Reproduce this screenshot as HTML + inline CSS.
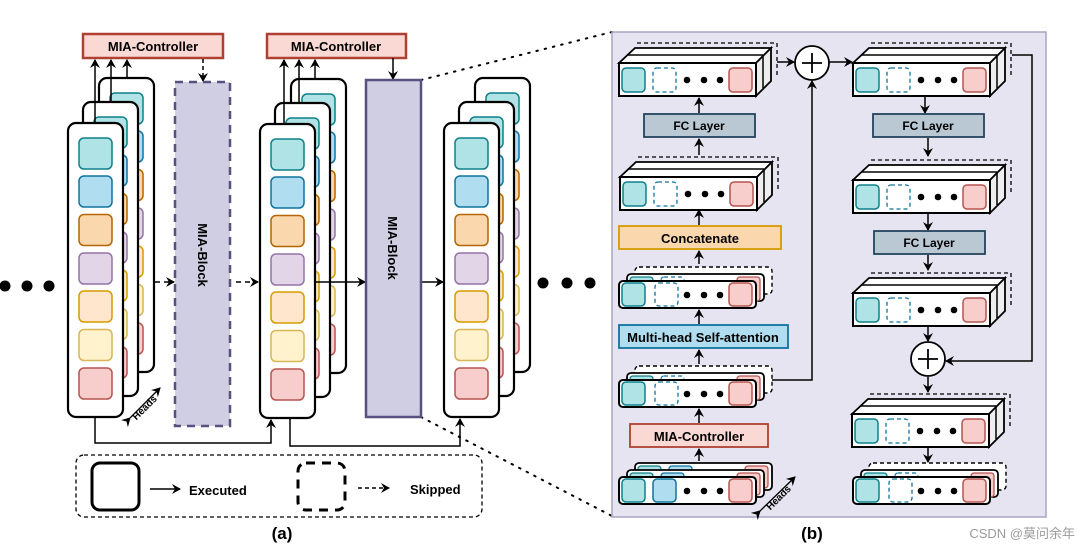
<!DOCTYPE html>
<html><head><meta charset="utf-8"><style>
html,body{margin:0;padding:0;background:#fff;}
svg{display:block;font-family:"Liberation Sans",Arial,sans-serif;}
</style></head><body>
<svg width="1089" height="552" viewBox="0 0 1089 552" xmlns="http://www.w3.org/2000/svg">
<defs>
<marker id="ah" markerWidth="10" markerHeight="10" refX="8" refY="5" orient="auto" markerUnits="userSpaceOnUse"><path d="M0,0 L9,5 L0,10 L3,5 z" fill="#000"/></marker>
<g id="card">
<rect x="0" y="0" width="55" height="294" rx="8" fill="#fff" stroke="#000" stroke-width="2.2"/>
<rect x="11" y="15" width="33" height="31" rx="5" fill="#b0e3e6" stroke="#0e8088" stroke-width="1.5"/>
<rect x="11" y="53" width="33" height="31" rx="5" fill="#b1ddf0" stroke="#10739e" stroke-width="1.5"/>
<rect x="11" y="91.5" width="33" height="31" rx="5" fill="#fad7ac" stroke="#b46504" stroke-width="1.5"/>
<rect x="11" y="130" width="33" height="31" rx="5" fill="#e1d5e7" stroke="#9673a6" stroke-width="1.5"/>
<rect x="11" y="168" width="33" height="31" rx="5" fill="#ffe6cc" stroke="#d79b00" stroke-width="1.5"/>
<rect x="11" y="206.5" width="33" height="31" rx="5" fill="#fff2cc" stroke="#d6b656" stroke-width="1.5"/>
<rect x="11" y="245" width="33" height="31" rx="5" fill="#f8cecc" stroke="#b85450" stroke-width="1.5"/>
</g>
<g id="stack">
<use href="#card" x="31" y="-45"/>
<use href="#card" x="15" y="-21"/>
<use href="#card" x="0" y="0"/>
</g>
<g id="cont">
<rect x="3" y="5" width="23" height="24" rx="4" fill="#b0e3e6" stroke="#0e8088" stroke-width="1.5"/>
<rect x="34" y="5" width="23" height="24" rx="4" fill="#fff" stroke="#10739e" stroke-width="1.3" stroke-dasharray="4,3"/>
<circle cx="68" cy="17" r="3.3" fill="#000"/><circle cx="85" cy="17" r="3.3" fill="#000"/><circle cx="101" cy="17" r="3.3" fill="#000"/>
<rect x="110" y="5" width="23" height="24" rx="4" fill="#f8cecc" stroke="#b85450" stroke-width="1.5"/>
</g>
<g id="prism">
<polyline points="18,-20 158,-20 158,13" fill="none" stroke="#000" stroke-width="1.3" stroke-dasharray="4,3"/>
<polygon points="0,0 16,-15 152,-15 137,0" fill="#fff" stroke="#000" stroke-width="1.8"/>
<polygon points="137,0 152,-15 152,18 137,33" fill="#eee" stroke="#000" stroke-width="1.8"/>
<line x1="8" y1="-8" x2="144" y2="-8" stroke="#000" stroke-width="1.5"/>
<line x1="144" y1="-8" x2="144" y2="25" stroke="#000" stroke-width="1.5"/>
<rect x="0" y="0" width="137" height="33" fill="#fff" stroke="#000" stroke-width="2"/>
<use href="#cont" x="0" y="0"/>
</g>
<g id="flat">
<rect x="16" y="-14" width="137" height="27" rx="4" fill="#fff" stroke="#000" stroke-width="1.4" stroke-dasharray="4,3"/>
<rect x="8" y="-7" width="137" height="27" rx="4" fill="#fff" stroke="#000" stroke-width="1.8"/>
<rect x="11" y="-4" width="23" height="10" rx="3" fill="#b0e3e6" stroke="#0e8088" stroke-width="1.3"/>
<rect x="42" y="-4" width="23" height="10" rx="3" fill="#fff" stroke="#10739e" stroke-width="1.3" stroke-dasharray="4,3"/>
<rect x="118" y="-4" width="23" height="24" rx="3" fill="#f8cecc" stroke="#b85450" stroke-width="1.3"/>
<rect x="0" y="0" width="137" height="27" rx="4" fill="#fff" stroke="#000" stroke-width="2"/>
<rect x="3" y="2" width="23" height="23" rx="4" fill="#b0e3e6" stroke="#0e8088" stroke-width="1.5"/>
<rect x="36" y="2" width="23" height="23" rx="4" fill="#fff" stroke="#10739e" stroke-width="1.3" stroke-dasharray="4,3"/>
<circle cx="68" cy="14" r="3.3" fill="#000"/><circle cx="85" cy="14" r="3.3" fill="#000"/><circle cx="101" cy="14" r="3.3" fill="#000"/>
<rect x="110" y="2" width="23" height="23" rx="4" fill="#f8cecc" stroke="#b85450" stroke-width="1.5"/>
</g>
</defs>

<!-- left dots -->
<circle cx="5" cy="286" r="5.5"/><circle cx="27" cy="286" r="5.5"/><circle cx="49" cy="286" r="5.5"/>
<circle cx="543" cy="283" r="5.5"/><circle cx="567" cy="283" r="5.5"/><circle cx="590" cy="283" r="5.5"/>

<!-- dotted zoom lines -->
<line x1="421" y1="80" x2="612" y2="32" stroke="#000" stroke-width="2" stroke-dasharray="1.5,7" stroke-linecap="round"/>
<line x1="421" y1="417" x2="612" y2="516" stroke="#000" stroke-width="2" stroke-dasharray="1.5,7" stroke-linecap="round"/>

<!-- controllers -->
<rect x="83" y="34" width="140" height="24" fill="#fad9d5" stroke="#ae4132" stroke-width="2.5"/>
<text x="153" y="51" text-anchor="middle" font-size="13" font-weight="bold">MIA-Controller</text>
<rect x="267" y="34" width="139" height="24" fill="#fad9d5" stroke="#ae4132" stroke-width="2.5"/>
<text x="336" y="51" text-anchor="middle" font-size="13" font-weight="bold">MIA-Controller</text>

<!-- stacks -->
<use href="#stack" x="68" y="123"/>
<use href="#stack" x="260" y="124"/>
<use href="#stack" x="444" y="123"/>

<!-- up arrows -->
<g stroke="#000" stroke-width="1.5" marker-end="url(#ah)">
<line x1="95" y1="123" x2="95" y2="60"/><line x1="111" y1="102" x2="111" y2="60"/><line x1="127" y1="78" x2="127" y2="60"/>
<line x1="284" y1="124" x2="284" y2="60"/><line x1="299" y1="103" x2="299" y2="60"/><line x1="315" y1="79" x2="315" y2="60"/>
<line x1="393" y1="58" x2="393" y2="79"/>
<line x1="203" y1="59" x2="203" y2="81" stroke-dasharray="4,3"/>
<line x1="155" y1="282" x2="174" y2="282" stroke-dasharray="5,4"/>
<line x1="236" y1="282" x2="258" y2="282" stroke-dasharray="5,4"/>
<line x1="314" y1="282" x2="365" y2="282"/>
<line x1="421" y1="282" x2="443" y2="282"/>
</g>

<!-- blocks -->
<rect x="175" y="82" width="55" height="344" fill="#d0cee2" stroke="#56517e" stroke-width="2.5" stroke-dasharray="8,6"/>
<text transform="translate(198,255) rotate(90)" text-anchor="middle" font-size="13" font-weight="bold">MIA-Block</text>
<rect x="366" y="80" width="55" height="337" fill="#d0cee2" stroke="#56517e" stroke-width="2.5"/>
<text transform="translate(388,248) rotate(90)" text-anchor="middle" font-size="13" font-weight="bold">MIA-Block</text>

<!-- bottom skip lines -->
<polyline points="95,417 95,443 271,443 271,420" fill="none" stroke="#000" stroke-width="1.5" marker-end="url(#ah)"/>
<polyline points="290,418 290,446 460,446 460,419" fill="none" stroke="#000" stroke-width="1.5" marker-end="url(#ah)"/>

<!-- heads (a) -->
<line x1="130" y1="418" x2="160" y2="388" stroke="#000" stroke-width="1.3" marker-end="url(#ah)" marker-start="url(#ah)"/>
<text transform="translate(147,410) rotate(-45)" text-anchor="middle" font-size="10" font-weight="bold">Heads</text>

<!-- legend -->
<rect x="76" y="455" width="406" height="62" rx="8" fill="none" stroke="#000" stroke-width="1.3" stroke-dasharray="4,3"/>
<rect x="92" y="463" width="47" height="47" rx="8" fill="#fff" stroke="#000" stroke-width="3"/>
<line x1="150" y1="489" x2="180" y2="489" stroke="#000" stroke-width="1.5" marker-end="url(#ah)"/>
<text x="189" y="495" font-size="13" font-weight="bold">Executed</text>
<rect x="298" y="463" width="47" height="47" rx="8" fill="#fff" stroke="#000" stroke-width="3" stroke-dasharray="9,7"/>
<line x1="358" y1="488" x2="389" y2="488" stroke="#000" stroke-width="1.5" stroke-dasharray="4,3" marker-end="url(#ah)"/>
<text x="410" y="494" font-size="13" font-weight="bold">Skipped</text>
<text x="282" y="539" text-anchor="middle" font-size="17" font-weight="bold">(a)</text>

<!-- panel b -->
<rect x="612" y="32" width="434" height="485" fill="#e6e4f0" stroke="#a8a4c4" stroke-width="1.5"/>

<use href="#prism" x="619" y="63"/>
<use href="#prism" x="620" y="177"/>
<use href="#flat" x="619" y="281"/>
<use href="#flat" x="619" y="380"/>
<g>
<rect x="635" y="463" width="137" height="27" rx="4" fill="#fff" stroke="#000" stroke-width="1.8"/>
<rect x="638" y="466" width="23" height="10" rx="3" fill="#b0e3e6" stroke="#0e8088" stroke-width="1.3"/>
<rect x="669" y="466" width="23" height="10" rx="3" fill="#b1ddf0" stroke="#10739e" stroke-width="1.3"/>
<rect x="745" y="466" width="23" height="22" rx="3" fill="#f8cecc" stroke="#b85450" stroke-width="1.3"/>
<rect x="627" y="470" width="137" height="27" rx="4" fill="#fff" stroke="#000" stroke-width="1.8"/>
<rect x="630" y="473" width="23" height="10" rx="3" fill="#b0e3e6" stroke="#0e8088" stroke-width="1.3"/>
<rect x="661" y="473" width="23" height="10" rx="3" fill="#b1ddf0" stroke="#10739e" stroke-width="1.3"/>
<rect x="737" y="473" width="23" height="22" rx="3" fill="#f8cecc" stroke="#b85450" stroke-width="1.3"/>
<rect x="619" y="477" width="137" height="27" rx="4" fill="#fff" stroke="#000" stroke-width="2"/>
<rect x="622" y="479" width="23" height="23" rx="4" fill="#b0e3e6" stroke="#0e8088" stroke-width="1.5"/>
<rect x="653" y="479" width="23" height="23" rx="4" fill="#b1ddf0" stroke="#10739e" stroke-width="1.5"/>
<circle cx="687" cy="491" r="3.3"/><circle cx="704" cy="491" r="3.3"/><circle cx="720" cy="491" r="3.3"/>
<rect x="729" y="479" width="23" height="23" rx="4" fill="#f8cecc" stroke="#b85450" stroke-width="1.5"/>
</g>

<rect x="644" y="114" width="111" height="23" fill="#bac8d3" stroke="#23445d" stroke-width="1.8"/>
<text x="699" y="130" text-anchor="middle" font-size="12" font-weight="bold">FC Layer</text>
<rect x="619" y="226" width="162" height="23" fill="#fad7ac" stroke="#d79b00" stroke-width="1.8"/>
<text x="700" y="243" text-anchor="middle" font-size="13" font-weight="bold">Concatenate</text>
<rect x="619" y="325" width="169" height="23" fill="#b1ddf0" stroke="#10739e" stroke-width="1.8"/>
<text x="703" y="342" text-anchor="middle" font-size="13" font-weight="bold">Multi-head Self-attention</text>
<rect x="630" y="424" width="138" height="23" fill="#fad9d5" stroke="#ae4132" stroke-width="1.8"/>
<text x="699" y="441" text-anchor="middle" font-size="13" font-weight="bold">MIA-Controller</text>

<g stroke="#000" stroke-width="1.5" marker-end="url(#ah)">
<line x1="699" y1="113" x2="699" y2="98"/>
<line x1="699" y1="155" x2="699" y2="139"/>
<line x1="699" y1="225" x2="699" y2="210"/>
<line x1="699" y1="264" x2="699" y2="251"/>
<line x1="699" y1="324" x2="699" y2="310"/>
<line x1="699" y1="364" x2="699" y2="350"/>
<line x1="699" y1="423" x2="699" y2="409"/>
<line x1="699" y1="461" x2="699" y2="449"/>
<polyline points="772,380 812,380 812,81" fill="none"/>
<polyline points="777,62 794,62" fill="none"/>
<line x1="829" y1="62" x2="852" y2="62"/>
<line x1="925" y1="97" x2="925" y2="113"/>
<line x1="928" y1="138" x2="928" y2="156"/>
<line x1="928" y1="212" x2="928" y2="230"/>
<line x1="928" y1="255" x2="928" y2="270"/>
<line x1="928" y1="326" x2="928" y2="341"/>
<line x1="928" y1="377" x2="928" y2="392"/>
<polyline points="1012,55 1032,55 1032,361 946,361" fill="none"/>
<line x1="928" y1="447" x2="928" y2="462"/>
</g>
<circle cx="812" cy="63" r="17" fill="#fff" stroke="#000" stroke-width="1.8"/>
<path d="M802,63 H822 M812,53 V73" stroke="#000" stroke-width="1.8"/>
<circle cx="928" cy="359" r="17" fill="#fff" stroke="#000" stroke-width="1.8"/>
<path d="M918,359 H938 M928,349 V369" stroke="#000" stroke-width="1.8"/>

<use href="#prism" x="853" y="63"/>
<rect x="873" y="114" width="111" height="23" fill="#bac8d3" stroke="#23445d" stroke-width="1.8"/>
<text x="928" y="130" text-anchor="middle" font-size="12" font-weight="bold">FC Layer</text>
<use href="#prism" x="853" y="180"/>
<rect x="874" y="231" width="111" height="23" fill="#bac8d3" stroke="#23445d" stroke-width="1.8"/>
<text x="929" y="247" text-anchor="middle" font-size="12" font-weight="bold">FC Layer</text>
<use href="#prism" x="853" y="293"/>
<use href="#prism" x="852" y="414"/>
<use href="#flat" x="853" y="477"/>

<line x1="760" y1="511" x2="795" y2="477" stroke="#000" stroke-width="1.3" marker-end="url(#ah)" marker-start="url(#ah)"/>
<text transform="translate(781,500) rotate(-45)" text-anchor="middle" font-size="10" font-weight="bold">Heads</text>

<text x="812" y="539" text-anchor="middle" font-size="17" font-weight="bold">(b)</text>
<text x="1075" y="538" text-anchor="end" font-size="13" fill="#9a9a9a" font-family="'Liberation Sans','Noto Sans CJK SC',sans-serif">CSDN @莫问余年</text>
</svg>
</body></html>
